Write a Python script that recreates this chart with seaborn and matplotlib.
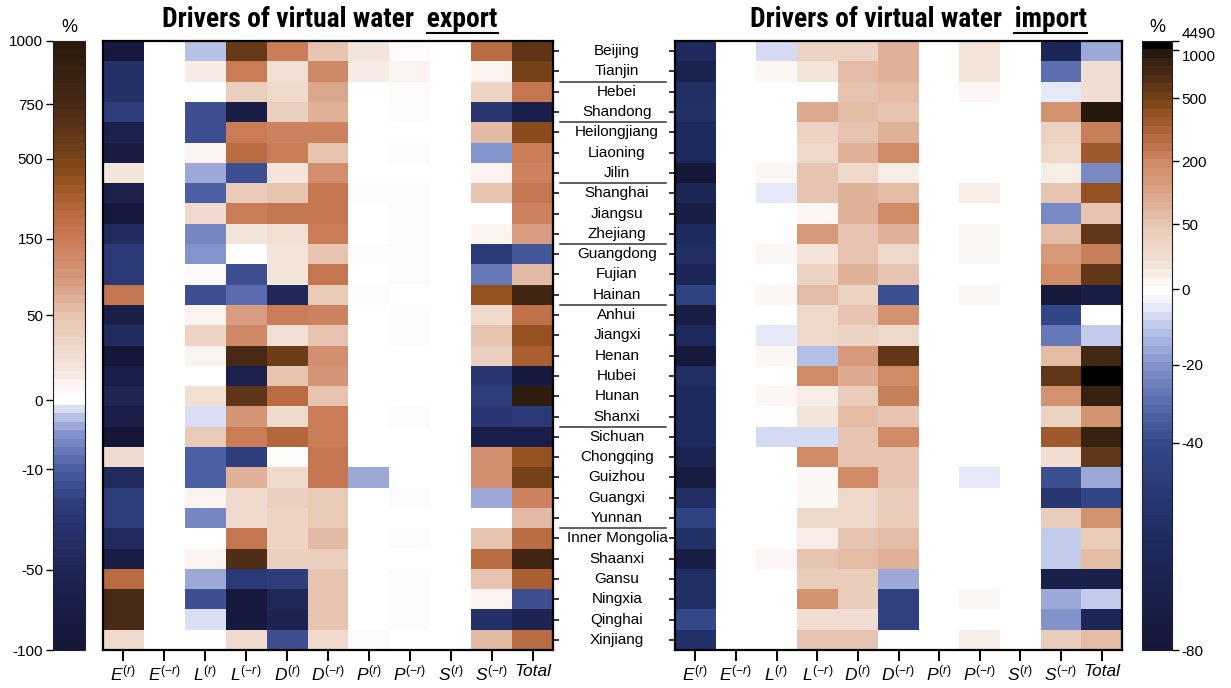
import numpy as np
import pandas as pd
import matplotlib
matplotlib.use("Agg")
import matplotlib.pyplot as plt
import seaborn as sns
from matplotlib.colors import FuncNorm, LinearSegmentedColormap
from matplotlib import transforms, font_manager
from matplotlib.lines import Line2D

# ---------------------------------------------------------------- data
PROVINCES = ["Beijing", "Tianjin", "Hebei", "Shandong", "Heilongjiang", "Liaoning",
             "Jilin", "Shanghai", "Jiangsu", "Zhejiang", "Guangdong", "Fujian",
             "Hainan", "Anhui", "Jiangxi", "Henan", "Hubei", "Hunan", "Shanxi",
             "Sichuan", "Chongqing", "Guizhou", "Guangxi", "Yunnan",
             "Inner Mongolia", "Shaanxi", "Gansu", "Ningxia", "Qinghai", "Xinjiang"]

DRIVER_LABELS = [r"$E^{(r)}$", r"$E^{(-r)}$", r"$L^{(r)}$", r"$L^{(-r)}$",
                 r"$D^{(r)}$", r"$D^{(-r)}$", r"$P^{(r)}$", r"$P^{(-r)}$",
                 r"$S^{(r)}$", r"$S^{(-r)}$", "Total"]

# group separators drawn below these provinces
GROUP_ENDS = ["Tianjin", "Shandong", "Jilin", "Zhejiang", "Hainan", "Shanxi", "Yunnan"]

# drivers of virtual water export (%)
EXP_E_R = [-90, -38, -38, -22, -65, -80, 20, -65, -90, -42, -28, -27, 200, -70, -42,
           -95, -72, -50, -70, -95, 30, -42, -22, -22, -42, -75, 240, 750, 750, 30]
EXP_E_NR = [0, 0, 0, 0, 0, 0, 0, 0, 0, 0, 0, 0, 0, 0, 0,
            0, 0, 0, 0, 0, 0, 0, 0, 0, 0, 0, 0, 0, 0, 0]
EXP_L_R = [-2, 15, 0, -15, -17, 10, -3.5, -11, 30, -6.5, -5.5, 5, -18, 8, 35,
           12, -0.4, 25, -1.3, 45, -11, -10, 10, -6.5, -0.4, 8, -3.5, -18, -1.5, 0]
EXP_L_NR = [600, 150, 40, -78, 150, 250, -18, 45, 160, 20, 0, -18, -9, 90, 130,
            750, -68, 620, 100, 150, -22, 70, 30, 30, 170, 700, -28, -92, -92, 30]
EXP_D_R = [150, 25, 30, 40, 140, 160, 20, 50, 190, 25, 20, 20, -45, 150, 25,
           550, 50, 250, 30, 300, 5, 30, 40, 35, 35, 40, -22, -45, -55, -18]
EXP_D_NR = [50, 130, 80, 70, 140, 50, 110, 200, 200, 160, 50, 180, 45, 140, 50,
            110, 100, 50, 160, 150, 170, 200, 45, 45, 65, 40, 50, 50, 50, 30]
EXP_P_R = [20, 15, 0, 0, 0, 0, 0, 5, 0, 0, 5, 0, 5, -0.5, 0,
           -0.5, 0, 0, 0, -0.4, 0, -3.5, -0.5, 0, 0, 0, 0, 0, 0, 5]
EXP_P_NR = [5, 12, 5, 5, 0, 5, 0, 5, 5, 5, 5, 5, 0, 5, 5,
            0, 0, 0, 5, 0, 0, 0, 5, 0, 5, 0, 5, 5, 5, 0]
EXP_S_R = [0, 0, 0, 0, 0, 0, 0, 0, 0, 0, 0, -0.4, 0, 0, 0,
           0, 0, 0, 0, 0, 0, 0, 0, 0, 0, 0, 0, 0, 0, 0]
EXP_S_NR = [250, 10, 35, -30, 55, -5.5, 12, 50, 0, 10, -28, -8, 420, 30, 50,
            40, -29, -22, -29, -70, 110, 110, -3.5, 0, 50, 240, 50, 10, -36, 65]
EXP_TOTAL = [650, 500, 170, -72, 450, 160, 140, 170, 140, 90, -14, 60, 800, 220, 400,
             320, -88, 950, -28, -70, 400, 500, 140, 60, 250, 800, 330, -18, -55, 240]

# drivers of virtual water import (%)
IMP_E_R = [-60, -68, -56, -54, -60, -60, -80, -63, -73, -60, -56, -63, -44, -73, -60,
           -77, -56, -60, -60, -60, -66, -75, -56, -44, -54, -73, -56, -56, -40, -54]
IMP_E_NR = [0, 0, 0, 0, 0, 0, 0, 0, 0, 0, 0, 0, 0, 0, 0,
            0, 0, 0, 0, 0, 0, 0, 0, 0, 0, 0, 0, 0, 0, 0]
IMP_L_R = [-8, 3, 0, 0, 2, 2, 5, -4, 0, -1, 5, -1, 5, 0, -4,
           5, 0, 4, -1, -7, 0, -1, 0, 2, 0, 4, 0, 0, 2, 2]
IMP_L_NR = [40, 20, 1, 120, 40, 30, 50, 50, 4, 150, 20, 40, 75, 30, 30,
            -11, 190, 12, 18, -7, 190, 8, 8, 30, 12, 50, 45, 170, 28, 50]
IMP_D_R = [40, 70, 55, 70, 55, 95, 30, 90, 90, 50, 50, 90, 40, 55, 40,
           150, 120, 45, 75, 55, 55, 190, 30, 30, 55, 75, 45, 45, 28, 55]
IMP_D_NR = [90, 95, 65, 50, 95, 190, 10, 75, 190, 95, 30, 50, -38, 170, 30,
            650, 190, 240, 55, 190, 55, 55, 45, 45, 75, 90, -16, -45, -45, -0.5]
IMP_P_R = [0, 1, 1, 0, 1, 0, 0, 1, 1, 1, 1, 1, 1, 1, 1,
           1, 1, 1, 1, 1, 1, 0, 1, 1, 1, 1, 1, 1, 1, 1]
IMP_P_NR = [20, 20, 5, 0, 0, 2, 0, 15, 2, 3, 3, 2, 5, -1, 2,
            0, 2, 0, 2, 0, 2, -4, 0, 2, 2, 2, 2, 4, 2, 15]
IMP_S_R = [0, 0, 0, 0, 0, 0, 0, 0, 0, 0, 0, 0, 0, 0, 0,
           0, 0, 0, 0, 0, 0, 0, 0, 0, 0, 0, 0, 0, 0, 0]
IMP_S_NR = [-63, -30, -4, 170, 40, 30, 10, 55, -22, 80, 160, 190, -77, -42, -27,
            75, 600, 170, 38, 370, 28, -38, -52, 45, -9, -9, -70, -17, -20, 45]
IMP_TOTAL = [-17, 25, 25, 1000, 240, 380, -22, 430, 55, 650, 240, 650, -72, 0, -9,
             780, 4490, 880, 175, 880, 600, -15, -42, 170, 45, 80, -70, -9, -63, 75]

# colour-bar tick values and their relative positions along the bar
EXP_TICKS = [-100, -50, -10, 0, 50, 150, 500, 750, 1000]
EXP_TICK_POS = [0.0, 0.132, 0.297, 0.41, 0.55, 0.675, 0.807, 0.896, 1.0]
IMP_TICKS = [-80, -40, -20, 0, 50, 200, 500, 1000, 4490]
IMP_TICK_POS = [0.0, 0.340, 0.468, 0.592, 0.699, 0.8025, 0.906, 0.985, 1.0]

# colour stops (value, colour)
EXP_STOPS = [(-100, "#15173a"), (-50, "#1e2656"), (-25, "#2c3b7a"), (-10, "#4d60a6"),
             (-5, "#8494cc"), (-2, "#c4ccec"), (-0.3, "#ffffff"), (1.5, "#ffffff"),
             (20, "#f4e4da"), (50, "#e6c4b0"), (100, "#d6987a"), (150, "#c97c56"),
             (300, "#b4663a"), (420, "#955220"), (500, "#7a4418"), (750, "#4a2a16"),
             (1000, "#2a1a0e")]
IMP_STOPS = [(-80, "#151838"), (-60, "#1e2a5e"), (-40, "#34488a"), (-30, "#5a6cae"),
             (-20, "#8494cc"), (-10, "#bcc6ea"), (-1, "#ffffff"), (1, "#ffffff"),
             (20, "#f3e3d9"), (50, "#e8c8b6"), (100, "#e0b098"), (200, "#d08a66"),
             (350, "#b0643a"), (450, "#935020"), (500, "#7a4418"), (700, "#583218"),
             (1000, "#2a1a0e"), (4490, "#000000")]

# ---------------------------------------------------------------- style
plt.rcParams["font.family"] = ["Liberation Sans", "DejaVu Sans"]
plt.rcParams["mathtext.fontset"] = "custom"
plt.rcParams["mathtext.rm"] = "Liberation Sans"
plt.rcParams["mathtext.it"] = "Liberation Sans:italic"
plt.rcParams["mathtext.bf"] = "Liberation Sans:bold"


def available(family):
    try:
        font_manager.findfont(font_manager.FontProperties(family=family),
                              fallback_to_default=False)
        return True
    except ValueError:
        return False


TITLE_FAMILY = next((f for f in ["Liberation Sans Narrow", "Roboto Condensed",
                                 "Liberation Sans"] if available(f)), "DejaVu Sans")


def piecewise_norm(ticks, pos):
    fwd = lambda v: np.interp(v, ticks, pos)
    inv = lambda p: np.interp(p, pos, ticks)
    return FuncNorm((fwd, inv), vmin=ticks[0], vmax=ticks[-1]), fwd


def stops_cmap(name, stops, fwd, n=72):
    pts = [(float(fwd(v)), c) for v, c in stops]
    pts[0] = (0.0, pts[0][1])
    pts[-1] = (1.0, pts[-1][1])
    return LinearSegmentedColormap.from_list(name, pts, N=n)


def frame(cols):
    return pd.DataFrame(np.array(cols, dtype=float).T, index=PROVINCES,
                        columns=DRIVER_LABELS)


export_df = frame([EXP_E_R, EXP_E_NR, EXP_L_R, EXP_L_NR, EXP_D_R, EXP_D_NR,
                   EXP_P_R, EXP_P_NR, EXP_S_R, EXP_S_NR, EXP_TOTAL])
import_df = frame([IMP_E_R, IMP_E_NR, IMP_L_R, IMP_L_NR, IMP_D_R, IMP_D_NR,
                   IMP_P_R, IMP_P_NR, IMP_S_R, IMP_S_NR, IMP_TOTAL])

exp_norm, exp_fwd = piecewise_norm(EXP_TICKS, EXP_TICK_POS)
imp_norm, imp_fwd = piecewise_norm(IMP_TICKS, IMP_TICK_POS)
exp_cmap = stops_cmap("export_div", EXP_STOPS, exp_fwd)
imp_cmap = stops_cmap("import_div", IMP_STOPS, imp_fwd)

# ---------------------------------------------------------------- layout
W, H = 1231, 688
fig = plt.figure(figsize=(W / 100, H / 100), dpi=100)


def box(x0, x1, y0=41, y1=650):
    return [x0 / W, (H - y1) / H, (x1 - x0) / W, (y1 - y0) / H]


ax_exp = fig.add_axes(box(103, 553))
ax_imp = fig.add_axes(box(675, 1122))
cax_exp = fig.add_axes(box(53, 85))
cax_imp = fig.add_axes(box(1142, 1172))

panels = [(ax_exp, cax_exp, export_df, exp_cmap, exp_norm, EXP_TICKS, "left"),
          (ax_imp, cax_imp, import_df, imp_cmap, imp_norm, IMP_TICKS, "right")]

for ax, cax, df, cmap, norm, ticks, side in panels:
    sns.heatmap(df, ax=ax, cmap=cmap, norm=norm, cbar_ax=cax,
                cbar_kws={"ticks": ticks}, xticklabels=DRIVER_LABELS,
                yticklabels=False, linewidths=0)
    for sp in ax.spines.values():
        sp.set_visible(True)
        sp.set_linewidth(1.6)
        sp.set_color("black")
    ax.set_xlabel("")
    ax.set_ylabel("")
    ax.set_yticks(np.arange(len(PROVINCES)) + 0.5)
    ax.set_yticklabels([])
    if side == "left":
        ax.yaxis.tick_right()
    else:
        ax.yaxis.tick_left()
    ax.tick_params(axis="y", length=4.5, width=1.1, color="black")
    ax.tick_params(axis="x", length=8, width=1.4, color="black", pad=2,
                   labelsize=12.5)
    for lab in ax.get_xticklabels():
        lab.set_rotation(0)
        lab.set_fontstyle("italic")

    cb = ax.collections[0].colorbar
    cb.set_ticks(ticks)
    cb.set_ticklabels([str(t) for t in ticks])
    cb.outline.set_visible(True)
    cb.outline.set_linewidth(0.8)
    cb.outline.set_edgecolor("#222222")
    cax.minorticks_off()
    cax.yaxis.set_ticks_position(side)
    cax.yaxis.set_label_position(side)
    cax.tick_params(axis="y", length=5, width=1.0, labelsize=11, pad=2)
    cx = (cax.get_position().x0 + cax.get_position().x1) / 2
    fig.text(cx, (H - 27) / H, "%", ha="center", va="center", fontsize=13)

# the two top labels of the import bar sit very close: nudge them apart
for tick in cax_imp.yaxis.get_major_ticks():
    txt = tick.label2.get_text()
    if txt == "4490":
        tick.label2.set_va("bottom")
    elif txt == "1000":
        tick.label2.set_va("top")

# province names between the two panels
name_tr = transforms.blended_transform_factory(fig.transFigure, ax_exp.transData)
for i, name in enumerate(PROVINCES):
    fig.text(617 / W, i + 0.5, name, transform=name_tr, ha="center", va="center",
             fontsize=11)
for name in GROUP_ENDS:
    yb = PROVINCES.index(name) + 1
    fig.add_artist(Line2D([560 / W, 666 / W], [yb, yb], transform=name_tr,
                          color="#333333", lw=1.1))

# panel titles with the last word underlined
renderer = fig.canvas.get_renderer()
title_font = dict(family=TITLE_FAMILY, weight="bold", fontsize=16)
probe = fig.text(0, 0, "Drivers of virtual water  export", **title_font)
probe_w = probe.get_window_extent(renderer).width
probe.remove()
title_font["fontsize"] = 16 * 335 / probe_w


def underlined_title(xc_px, text, word, baseline_px=27):
    yb = (H - baseline_px) / H
    t = fig.text(xc_px / W, yb, text + word, ha="center", va="baseline", **title_font)
    bb = t.get_window_extent(renderer)
    tmp = fig.text(0, 0, word, **title_font)
    wb = tmp.get_window_extent(renderer)
    tmp.remove()
    y_line = (H - baseline_px - 6) / H
    fig.add_artist(Line2D([(bb.x1 - wb.width) / W, bb.x1 / W], [y_line, y_line],
                          transform=fig.transFigure, color="black", lw=1.5))


underlined_title(330, "Drivers of virtual water  ", "export")
underlined_title(918, "Drivers of virtual water  ", "import")

fig.savefig("out.png", dpi=100)
